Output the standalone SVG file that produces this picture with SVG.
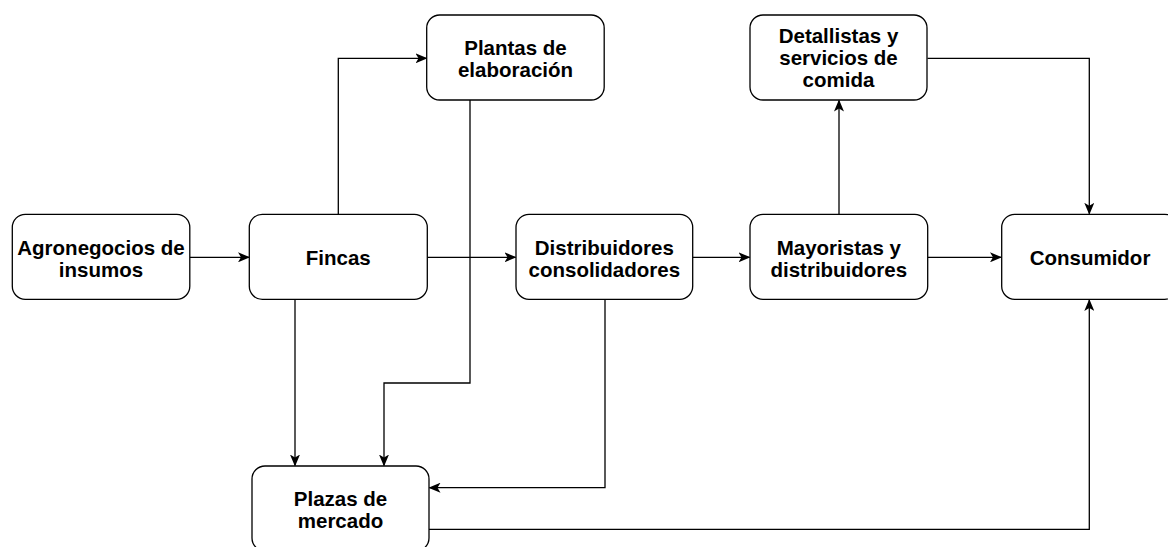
<svg xmlns="http://www.w3.org/2000/svg" width="1168" height="547" viewBox="0 0 1168 547">
<style>
.box{fill:#fff;stroke:#000;stroke-width:1.3}
.lbl{font-family:"Liberation Sans",Arial,Helvetica,sans-serif;font-weight:bold;font-size:20.5px;fill:#000;text-anchor:middle}
.edge{fill:none;stroke:#000;stroke-width:1.3}
</style>
<defs>
<marker id="arr" viewBox="0 0 12 10" refX="11" refY="5" markerWidth="12" markerHeight="10" markerUnits="userSpaceOnUse" orient="auto">
<path d="M0,0 L12,5 L0,10 L3,5 Z" fill="#000"/>
</marker>
</defs>
<rect width="1168" height="547" fill="#fff"/>
<g id="connectors">
<path class="edge" marker-end="url(#arr)" d="M190,257.3 L249,257.3"/>
<path class="edge" marker-end="url(#arr)" d="M338.3,214.3 L338.3,58.3 L426.5,58.3"/>
<path class="edge" marker-end="url(#arr)" d="M427.3,257.3 L515.5,257.3"/>
<path class="edge" marker-end="url(#arr)" d="M470,100 L470,383 L384,383 L384,465.5"/>
<path class="edge" marker-end="url(#arr)" d="M295,299.3 L295,465.5"/>
<path class="edge" marker-end="url(#arr)" d="M692.5,257.3 L749.5,257.3"/>
<path class="edge" marker-end="url(#arr)" d="M605,299.3 L605,487.7 L429.5,487.7"/>
<path class="edge" marker-end="url(#arr)" d="M839,214.3 L839,100.5"/>
<path class="edge" marker-end="url(#arr)" d="M927.5,257.3 L1001,257.3"/>
<path class="edge" marker-end="url(#arr)" d="M927.5,58.3 L1089.3,58.3 L1089.3,213.8"/>
<path class="edge" marker-end="url(#arr)" d="M429,529.3 L1089.3,529.3 L1089.3,300"/>
</g>
<g id="n-agronegocios">
<rect class="box" x="12.3" y="214.3" width="177.5" height="85" rx="13"/>
<text class="lbl" x="101" y="254.8">Agronegocios de</text>
<text class="lbl" x="101" y="277">insumos</text>
</g>
<g id="n-fincas">
<rect class="box" x="249.3" y="214.3" width="178" height="85" rx="13"/>
<text class="lbl" x="338.3" y="264.8">Fincas</text>
</g>
<g id="n-plantas">
<rect class="box" x="426.7" y="15" width="177.5" height="85" rx="13"/>
<text class="lbl" x="515.5" y="55">Plantas de</text>
<text class="lbl" x="515.5" y="77.2">elaboración</text>
</g>
<g id="n-distribuidores">
<rect class="box" x="516" y="214.3" width="176.7" height="85" rx="13"/>
<text class="lbl" x="604.3" y="254.8">Distribuidores</text>
<text class="lbl" x="604.3" y="277">consolidadores</text>
</g>
<g id="n-mayoristas">
<rect class="box" x="750" y="214.3" width="177.7" height="85" rx="13"/>
<text class="lbl" x="838.8" y="254.8">Mayoristas y</text>
<text class="lbl" x="838.8" y="277">distribuidores</text>
</g>
<g id="n-detallistas">
<rect class="box" x="750" y="15" width="177" height="85" rx="13"/>
<text class="lbl" x="838.5" y="43.3">Detallistas y</text>
<text class="lbl" x="838.5" y="65.3">servicios de</text>
<text class="lbl" x="838.5" y="87.3">comida</text>
</g>
<g id="n-consumidor">
<rect class="box" x="1001.7" y="214.3" width="176" height="85" rx="13"/>
<text class="lbl" x="1090" y="264.8">Consumidor</text>
</g>
<g id="n-plazas">
<rect class="box" x="252" y="466" width="177" height="85" rx="13"/>
<text class="lbl" x="340.5" y="506">Plazas de</text>
<text class="lbl" x="340.5" y="528.2">mercado</text>
</g>
</svg>
